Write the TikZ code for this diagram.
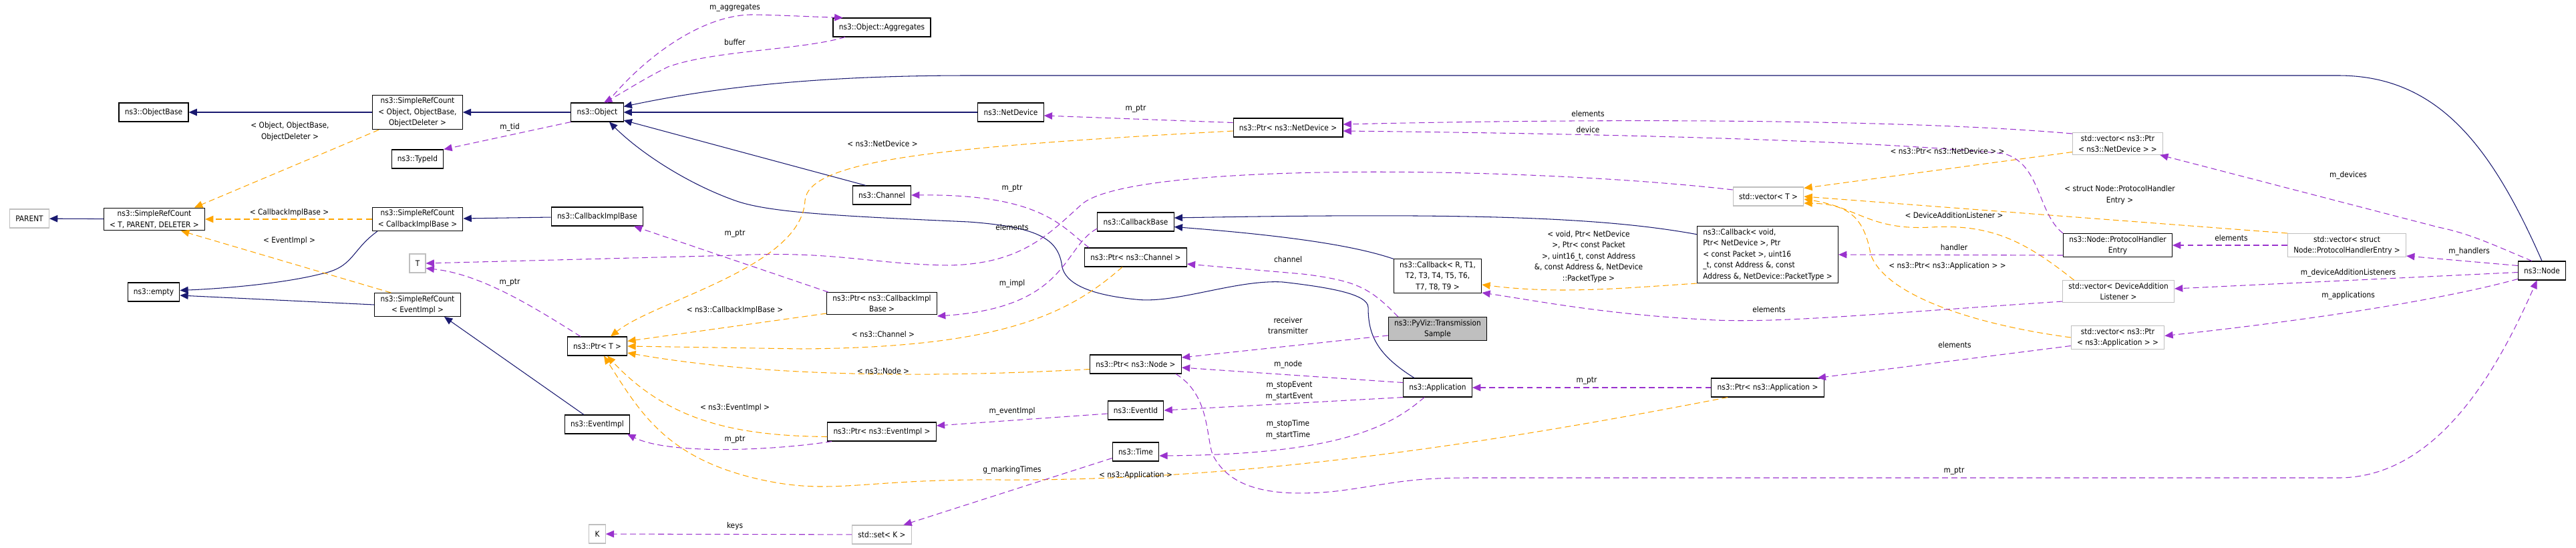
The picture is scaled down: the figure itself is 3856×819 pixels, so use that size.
\documentclass[tikz,border=0pt]{standalone}
\usepackage{fontspec}
\setmainfont{DejaVu Sans Condensed}
\usepackage{tikz}
\usetikzlibrary{positioning}
\usetikzlibrary{arrows.meta}

\definecolor{inhcol}{HTML}{191970}
\definecolor{usecol}{HTML}{9A32CD}
\definecolor{tplcol}{HTML}{FFA500}
\definecolor{extcol}{HTML}{BFBFBF}

\tikzset{
	cls/.style={draw=black, semithick, fill=white, align=center, inner xsep=5pt, inner ysep=2pt, minimum height=0.56cm, font=\fontsize{6.7}{9.4}\selectfont},
	ext/.style={cls, draw=extcol},
	cur/.style={cls, fill=extcol},
	lbl/.style={align=center, inner sep=1pt, font=\fontsize{6.7}{9.4}\selectfont},
	inh/.style={draw=inhcol, semithick, -{Triangle[length=7pt,width=6pt]}},
	use/.style={draw=usecol, semithick, dash pattern=on 5pt off 3pt, -{Triangle[length=7pt,width=6pt]}},
	tpl/.style={draw=tplcol, semithick, dash pattern=on 5pt off 3pt, -{Triangle[length=7pt,width=6pt]}},
}

\begin{document}
\begin{tikzpicture}[x=0.02cm, y=-0.02cm]
	\useasboundingbox (0,0) rectangle (3856,819);
	
	% ---------------------
	% Classes
	\node[cls] (ObjectBase) at (230,168) {ns3::ObjectBase};
	\node[cls] (RefObject) at (625,168) {ns3::SimpleRefCount\\< Object, ObjectBase,\\ ObjectDeleter >};
	\node[cls] (Object) at (894,168) {ns3::Object};
	\node[cls] (TypeId) at (625,238) {ns3::TypeId};
	\node[ext] (Parent) at (44,327) {PARENT};
	\node[cls] (RefT) at (231,328) {ns3::SimpleRefCount\\< T, PARENT, DELETER >};
	\node[cls] (RefImpl) at (625,328) {ns3::SimpleRefCount\\< CallbackImplBase >};
	\node[cls] (ImplBase) at (894,324) {ns3::CallbackImplBase};
	\node[ext] (T) at (625,394) {T};
	\node[cls] (Empty) at (230,437) {ns3::empty};
	\node[cls] (RefEvent) at (625,456) {ns3::SimpleRefCount\\< EventImpl >};
	\node[cls] (PtrT) at (894,518) {ns3::Ptr< T >};
	\node[cls] (EventImpl) at (894,635) {ns3::EventImpl};
	\node[ext] (K) at (894,799) {K};
	
	\node[cls] (Aggregates) at (1320,41) {ns3::Object::Aggregates};
	\node[cls] (NetDevice) at (1513,168) {ns3::NetDevice};
	\node[cls] (PtrDevice) at (1928,191) {ns3::Ptr< ns3::NetDevice >};
	\node[cls] (Channel) at (1320,292) {ns3::Channel};
	\node[cls] (CallbackBase) at (1700,332) {ns3::CallbackBase};
	\node[cls] (PtrChannel) at (1700,385) {ns3::Ptr< ns3::Channel >};
	\node[cls] (PtrImpl) at (1320,454) {ns3::Ptr< ns3::CallbackImpl\\Base >};
	\node[cls] (PtrNode) at (1700,545) {ns3::Ptr< ns3::Node >};
	\node[cls] (EventId) at (1700,614) {ns3::EventId};
	\node[cls] (PtrEvent) at (1320,646) {ns3::Ptr< ns3::EventImpl >};
	\node[cls] (Time) at (1700,676) {ns3::Time};
	\node[ext] (SetK) at (1320,800) {std::set< K >};
	
	\node[ext] (VecT) at (2647,294) {std::vector< T >};
	\node[cls, align=left] (CbVoid) at (2646,381) {ns3::Callback< void,\\ Ptr< NetDevice >, Ptr\\< const Packet >, uint16\\\_t, const Address \&, const\\ Address \&, NetDevice::PacketType >};
	\node[cls] (CbR) at (2152,413) {ns3::Callback< R, T1,\\ T2, T3, T4, T5, T6,\\ T7, T8, T9 >};
	\node[cur] (Sample) at (2152,492) {ns3::PyViz::Transmission\\Sample};
	\node[cls] (App) at (2152,580) {ns3::Application};
	\node[cls] (PtrApp) at (2646,580) {ns3::Ptr< ns3::Application >};
	
	\node[ext] (VecDevice) at (3170,215) {std::vector< ns3::Ptr\\< ns3::NetDevice > >};
	\node[cls] (Handler) at (3170,367) {ns3::Node::ProtocolHandler\\Entry};
	\node[ext] (VecHandler) at (3513,367) {std::vector< struct\\ Node::ProtocolHandlerEntry >};
	\node[cls] (Node) at (3805,405) {ns3::Node};
	\node[ext] (VecListener) at (3171,436) {std::vector< DeviceAddition\\Listener >};
	\node[ext] (VecApp) at (3170,505) {std::vector< ns3::Ptr\\< ns3::Application > >};
	
	% ---------------------
	% Inheritance
	\draw[inh] (RefObject) -- (ObjectBase);
	\draw[inh] (Object) -- (RefObject);
	\draw[inh] (RefT) -- (Parent);
	\draw[inh] ([xshift=-1.2cm]RefImpl.south) .. controls (525,375) and (530,400) .. (480,410) .. controls (420,425) and (330,432) .. ([yshift=0.05cm]Empty.east);
	\draw[inh] (RefEvent.west) -- ([yshift=-0.1cm]Empty.east);
	\draw[inh] (ImplBase) -- (RefImpl);
	\draw[inh] ([xshift=-0.4cm]EventImpl.north) -- ([xshift=0.8cm]RefEvent.south);
	\draw[inh] (NetDevice) -- (Object);
	\draw[inh] ([xshift=0.4cm]Channel.north west) -- ([yshift=0.05cm]Object.south east);
	\draw[inh] (Node.north) .. controls (3730,220) and (3650,113) .. (3500,113) -- (1450,113) .. controls (1200,113) and (1050,135) .. ([yshift=-0.12cm]Object.north east);
	\draw[inh] ([xshift=-0.7cm]App.north) .. controls (2060,530) and (2048,500) .. (2048,460)
		.. controls (2048,440) and (1990,430) .. (1920,422)
		.. controls (1850,418) and (1760,455) .. (1700,448)
		.. controls (1620,440) and (1595,420) .. (1590,400)
		.. controls (1585,360) and (1560,340) .. (1450,332)
		.. controls (1250,323) and (1150,318) .. (1100,300)
		.. controls (1030,275) and (960,230) .. ([xshift=0.36cm]Object.south);
	\draw[inh] (CbR.north west) .. controls (2040,372) and (1960,355) .. ([yshift=-0.15cm]CallbackBase.east);
	\draw[inh] ([yshift=-0.25cm]CbVoid.north west) .. controls (2400,325) and (2200,318) .. ([yshift=0.12cm]CallbackBase.east);
	
	% ---------------------
	% Template instances
	\draw[tpl] ([xshift=0.2cm]RefObject.south west) -- ([xshift=1.2cm]RefT.north);
	\draw[tpl] (RefImpl) -- (RefT);
	\draw[tpl] ([xshift=0.5cm]RefEvent.north west) -- ([xshift=0.8cm]RefT.south);
	\draw[tpl] ([yshift=-0.1cm]PtrDevice.west) .. controls (1400,220) and (1210,240) .. (1205,300) .. controls (1200,400) and (980,450) .. ([xshift=0.4cm]PtrT.north);
	\draw[tpl] ([yshift=-0.3cm]PtrImpl.west) -- ([yshift=0.15cm]PtrT.east);
	\draw[tpl] ([xshift=-0.4cm]PtrChannel.south) .. controls (1600,470) and (1500,520) .. (1200,522) -- (PtrT.east);
	\draw[tpl] ([yshift=-0.15cm]PtrNode.west) .. controls (1400,565) and (1150,565) .. ([yshift=-0.2cm]PtrT.east);
	\draw[tpl] ([yshift=-0.15cm]PtrEvent.west) .. controls (1100,652) and (1000,630) .. ([xshift=0.3cm]PtrT.south);
	\draw[tpl] ([xshift=-1.2cm]PtrApp.south) .. controls (2300,650) and (1900,720) .. (1500,718) .. controls (1300,716) and (1250,740) .. (1150,720) .. controls (1000,690) and (960,620) .. ([xshift=0.2cm]PtrT.south);
	\draw[tpl] ([yshift=-0.86cm]CbVoid.west) .. controls (2420,432) and (2330,440) .. ([yshift=-0.26cm]CbR.east);
	\draw[tpl] ([yshift=-0.25cm]VecDevice.west) -- ([yshift=0.25cm]VecT.east);
	\draw[tpl] (VecHandler.north west) -- (VecT.east);
	\draw[tpl] ([xshift=0.35cm]VecListener.north west) .. controls (3030,360) and (2980,335) .. (2890,340) .. controls (2800,345) and (2780,310) .. ([yshift=-0.08cm]VecT.east);
	\draw[tpl] (VecApp.west) .. controls (2950,485) and (2820,440) .. (2800,380) .. controls (2790,320) and (2760,305) .. ([yshift=-0.2cm]VecT.east);
	
	% ---------------------
	% Members
	\draw[use] ([xshift=0.3cm]Object.north) .. controls (960,90) and (1050,20) .. (1130,22) .. controls (1180,23) and (1210,25) .. ([xshift=0.3cm]Aggregates.north west);
	\draw[use] ([xshift=-1.1cm]Aggregates.south) .. controls (1200,75) and (1070,75) .. (1000,100) .. controls (960,120) and (930,140) .. ([xshift=0.2cm]Object.north);
	\draw[use] (Object.south west) -- (TypeId.north east);
	\draw[use] ([xshift=-0.5cm]PtrT.north) .. controls (800,460) and (720,410) .. ([yshift=-0.15cm]T.east);
	\draw[use] ([yshift=0.2cm]VecT.west) .. controls (2300,250) and (1700,240) .. (1620,305) .. controls (1570,350) and (1530,395) .. (1420,397) .. controls (1300,395) and (1250,375) .. (1100,382) -- (T.east);
	\draw[use] ([yshift=0.15cm]PtrDevice.west) -- ([yshift=-0.1cm]NetDevice.east);
	\draw[use] ([xshift=-1.4cm]PtrChannel.north) .. controls (1590,340) and (1560,290) .. (Channel.east);
	\draw[use] ([xshift=-1.6cm]PtrImpl.north) -- ([xshift=1.1cm]ImplBase.south);
	\draw[use] ([yshift=-0.2cm]CallbackBase.west) .. controls (1590,370) and (1600,460) .. ([yshift=-0.38cm]PtrImpl.east);
	\draw[use] ([xshift=-1.5cm]PtrEvent.south) .. controls (1150,675) and (1000,680) .. ([xshift=0.9cm]EventImpl.south);
	\draw[use] ([yshift=-0.1cm]EventId.west) -- ([yshift=0.18cm]PtrEvent.east);
	\draw[use] (PtrApp) -- (App);
	\draw[use] ([yshift=0.15cm]App.west) -- ([yshift=-0.1cm]PtrNode.east);
	\draw[use] (App.south west) -- (EventId.east);
	\draw[use] ([xshift=-0.4cm]App.south) .. controls (2080,640) and (2000,680) .. ([yshift=-0.12cm]Time.east);
	\draw[use] ([yshift=0.1cm]Time.south west) -- ([xshift=-0.25cm]SetK.north east);
	\draw[use] (SetK) -- (K);
	\draw[use] ([yshift=-0.2cm]Sample.west) -- ([yshift=0.2cm]PtrNode.east);
	\draw[use] ([xshift=0.3cm]Sample.north west) .. controls (2050,430) and (2030,420) .. (1950,410) -- ([yshift=-0.2cm]PtrChannel.east);
	\draw[use] ([xshift=1.2cm]PtrNode.south) .. controls (1810,590) and (1805,650) .. (1815,680) .. controls (1840,730) and (1900,745) .. (2000,735) .. controls (2080,725) and (2100,715) .. (2200,715) -- (3500,715) .. controls (3650,715) and (3740,550) .. ([xshift=-0.15cm]Node.south);
	\draw[use] ([yshift=0.3cm]VecDevice.west) .. controls (2900,182) and (2500,175) .. ([yshift=0.1cm]PtrDevice.east);
	\draw[use] (Handler.north west) .. controls (3050,320) and (3055,245) .. (3000,230) .. controls (2800,210) and (2400,200) .. ([yshift=-0.1cm]PtrDevice.east);
	\draw[use] ([yshift=-0.3cm]Handler.west) -- (CbVoid.east);
	\draw[use] ([yshift=-0.25cm]VecApp.west) -- ([xshift=-0.2cm]PtrApp.north east);
	\draw[use] ([yshift=-0.3cm]VecListener.west) .. controls (2800,470) and (2650,485) .. (2550,478) .. controls (2400,470) and (2300,450) .. ([yshift=-0.5cm]CbR.east);
	\draw[use] (VecHandler) -- (Handler);
	\draw[use] ([xshift=-0.3cm]Node.north) .. controls (3740,370) and (3700,350) .. (3650,340) -- ([xshift=-0.1cm]VecDevice.south east);
	\draw[use] ([yshift=0.15cm]Node.west) -- ([yshift=-0.32cm]VecHandler.east);
	\draw[use] ([yshift=-0.05cm]Node.west) -- ([yshift=0.08cm]VecListener.east);
	\draw[use] ([yshift=-0.25cm]Node.west) .. controls (3650,450) and (3450,480) .. ([yshift=0.05cm]VecApp.east);
	
	% ---------------------
	% Edge labels
	\node[lbl] (lRefObject) at (434,197) {< Object, ObjectBase,\\ObjectDeleter >};
	\node[lbl] (lTid) at (763,190) {m\_tid};
	\node[lbl] (lRefImpl) at (433,318) {< CallbackImplBase >};
	\node[lbl] (lRefEvent) at (433,360) {< EventImpl >};
	\node[lbl] (lPtrT) at (763,423) {m\_ptr};
	\node[lbl] (lAggregates) at (1100,12) {m\_aggregates};
	\node[lbl] (lBuffer) at (1100,63) {buffer};
	\node[lbl] (lTplDevice) at (1321,215) {< ns3::NetDevice >};
	\node[lbl] (lPtrDevice) at (1700,163) {m\_ptr};
	\node[lbl] (lPtrChannel) at (1515,282) {m\_ptr};
	\node[lbl] (lElemT) at (1515,340) {elements};
	\node[lbl] (lPtrImpl) at (1100,350) {m\_ptr};
	\node[lbl] (lImpl) at (1515,424) {m\_impl};
	\node[lbl] (lTplImpl) at (1100,464) {< ns3::CallbackImplBase >};
	\node[lbl] (lTplChannel) at (1322,500) {< ns3::Channel >};
	\node[lbl] (lChannel) at (1928,388) {channel};
	\node[lbl] (lReceiver) at (1928,487) {receiver\\transmitter};
	\node[lbl] (lTplNode) at (1322,555) {< ns3::Node >};
	\node[lbl] (lNode) at (1928,545) {m\_node};
	\node[lbl] (lEvents) at (1930,585) {m\_stopEvent\\m\_startEvent};
	\node[lbl] (lTplEvent) at (1100,610) {< ns3::EventImpl >};
	\node[lbl] (lEventImpl) at (1515,615) {m\_eventImpl};
	\node[lbl] (lPtrEvent) at (1100,658) {m\_ptr};
	\node[lbl] (lTimes) at (1928,643) {m\_stopTime\\m\_startTime};
	\node[lbl] (lMarking) at (1515,703) {g\_markingTimes};
	\node[lbl] (lTplApp) at (1700,711) {< ns3::Application >};
	\node[lbl] (lKeys) at (1100,787) {keys};
	\node[lbl] (lElemDevice) at (2377,170) {elements};
	\node[lbl] (lDevice) at (2377,194) {device};
	\node[lbl] (lTplVecDevice) at (2915,226) {< ns3::Ptr< ns3::NetDevice > >};
	\node[lbl] (lTplCb) at (2378,384) {< void, Ptr< NetDevice\\>, Ptr< const Packet\\>, uint16\_t, const Address\\\&, const Address \&, NetDevice\\::PacketType >};
	\node[lbl] (lTplListener) at (2925,322) {< DeviceAdditionListener >};
	\node[lbl] (lHandler) at (2925,370) {handler};
	\node[lbl] (lTplVecApp) at (2915,398) {< ns3::Ptr< ns3::Application > >};
	\node[lbl] (lElemListener) at (2648,463) {elements};
	\node[lbl] (lElemApp) at (2926,516) {elements};
	\node[lbl] (lPtrApp) at (2375,570) {m\_ptr};
	\node[lbl] (lPtrNode) at (2925,705) {m\_ptr};
	\node[lbl] (lTplHandler) at (3173,292) {< struct Node::ProtocolHandler\\Entry >};
	\node[lbl] (lDevices) at (3515,262) {m\_devices};
	\node[lbl] (lElemHandler) at (3340,356) {elements};
	\node[lbl] (lHandlers) at (3696,376) {m\_handlers};
	\node[lbl] (lListeners) at (3515,408) {m\_deviceAdditionListeners};
	\node[lbl] (lApplications) at (3515,442) {m\_applications};
	
\end{tikzpicture}
\end{document}
